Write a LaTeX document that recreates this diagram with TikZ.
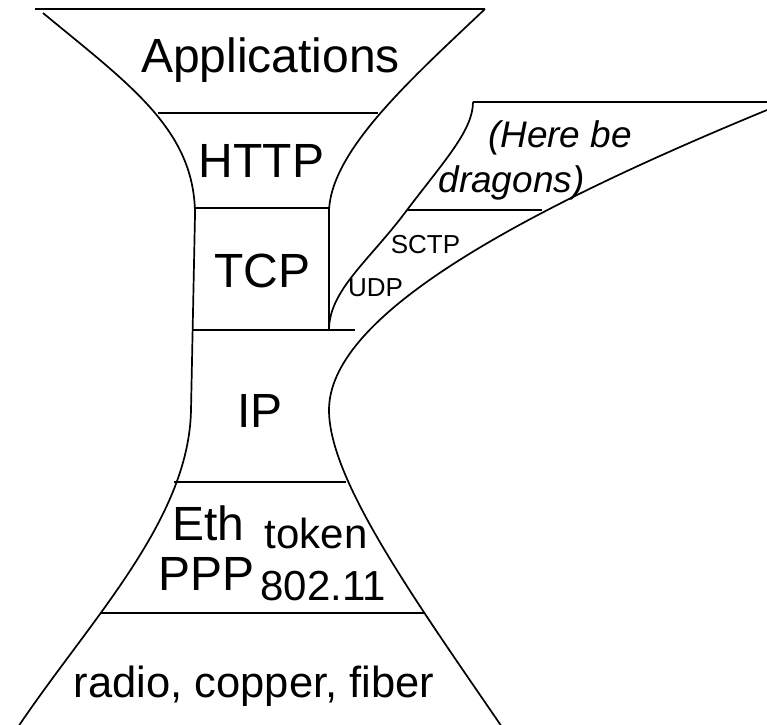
\documentclass[tikz,border=0pt]{standalone}
\usepackage{fontspec}
\setmainfont{Liberation Sans}
\begin{document}
\begin{tikzpicture}[x=1pt,y=-1pt,
  outline/.style={line width=1.7pt, line join=round},
  big/.style={font=\fontsize{48}{52}\selectfont, inner sep=0pt, anchor=base},
  mid/.style={font=\fontsize{42}{46}\selectfont, inner sep=0pt, anchor=base},
  base/.style={font=\fontsize{43.5}{47}\selectfont, inner sep=0pt, anchor=base},
  small/.style={font=\fontsize{26}{29}\selectfont, inner sep=0pt, anchor=base},
  note/.style={font=\fontsize{37}{41}\selectfont\itshape, inner sep=0pt, anchor=base}]
\useasboundingbox (0,0) rectangle (767,724);
\clip (0,0) rectangle (767,724);

% hourglass: left wall
\draw[outline] (43,13) .. controls (130,85) and (195,130) .. (195,215)
  -- (191,410) .. controls (189,520) and (90,620) .. (18,727);
% hourglass: right wall above IP
\draw[outline] (485,9) .. controls (410,80) and (332,150) .. (329,210) -- (329,330);
% UDP / SCTP boundary
\draw[outline] (329,330) .. controls (329,290) and (370,260) .. (407,210)
  .. controls (445,160) and (473,130) .. (473,102);
% outer boundary of the side branch and the lower right wall
\draw[outline] (790,100) -- (767,110) .. controls (500,220) and (329,320) .. (329,410)
  .. controls (329,480) and (415,600) .. (502,727);

% layer separators
\draw[outline] (35,9) -- (485,9);
\draw[outline] (158,113) -- (378,113);
\draw[outline] (195,208) -- (329,208);
\draw[outline] (193,330) -- (355,330);
\draw[outline] (174,482) -- (346,482);
\draw[outline] (101,613) -- (424,613);
\draw[outline] (407,210) -- (542,210);
\draw[outline] (473,102) -- (790,102);

% labels
\node[big] (app) at (270.5,72) {Applications};
\node[big] (http) at (261.5,177) {HTTP};
\node[big] (tcp) at (262.5,287) {TCP};
\node[big] (ip) at (260,427) {IP};
\node[big] (eth) at (208.5,540) {Eth};
\node[big] (ppp) at (206.5,590) {PPP};
\node[mid] (token) at (316,548) {token};
\node[mid] (wifi) at (323,600) {802.11};
\node[base] (phys) at (254,697) {radio, copper, fiber};
\node[note] (here) at (560,147) {(Here be};
\node[note] (dragons) at (511.5,192) {dragons)};
\node[small] (sctp) at (425.5,253) {SCTP};
\node[small] (udp) at (375.5,296) {UDP};
\end{tikzpicture}
\end{document}
